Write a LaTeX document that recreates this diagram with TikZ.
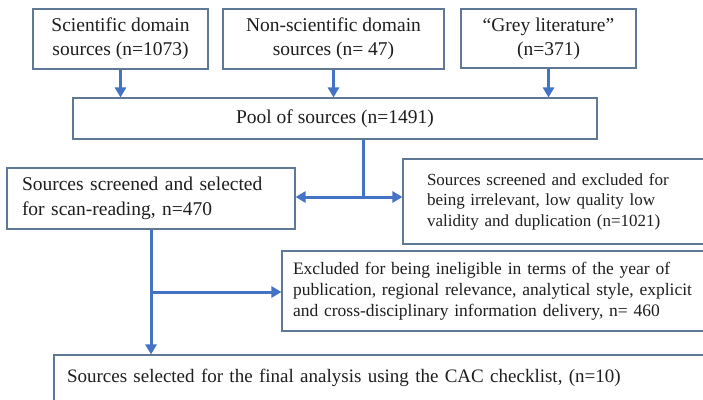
\documentclass[tikz,border=0pt]{standalone}
\usepackage{fontspec}
\setmainfont{Liberation Serif}
\usetikzlibrary{arrows.meta}
\definecolor{arrc}{RGB}{68,114,196}
\definecolor{boxc}{RGB}{95,120,150}
\definecolor{txtc}{RGB}{30,30,30}
\begin{document}
\begin{tikzpicture}[x=1pt,y=-1pt,
  box/.style={draw=boxc, line width=1.1pt, text=txtc, inner sep=0pt, fill=white},
  topbox/.style={box, align=center, font=\fontsize{19.5}{24}\selectfont},
  lbox/.style={box, align=left},
  arr/.style={draw=arrc, line width=3pt, -{Triangle[width=11pt,length=10pt]}},
  ln/.style={draw=arrc, line width=3pt}]
\clip (0,0) rectangle (703,399);
\fill[white] (0,0) rectangle (703,399);
% top sources
\node[topbox, minimum width=175pt, minimum height=60pt] (s1) at (120.5,39) {Scientific domain\\sources (n=1073)};
\node[topbox, minimum width=221pt, minimum height=60pt] (s2) at (333.5,39) {Non-scientific domain\\sources (n= 47)};
\node[topbox, minimum width=175pt, minimum height=59pt] (s3) at (548.5,38.5) {``Grey literature''\\(n=371)};
% pool
\node[topbox, minimum width=524pt, minimum height=41pt] (pool) at (335,118.5) {Pool of sources (n=1491)};
% screened and selected
\node[lbox, text width=258pt, inner xsep=15pt, minimum height=61pt,
  font=\fontsize{19.5}{25}\selectfont] (sel) at (151,198.5)
  {Sources screened and selected\\for scan-reading, n=470};
% excluded 1
\node[lbox, text width=259pt, inner xsep=24pt, minimum height=85pt,
  font=\fontsize{17}{20.5}\selectfont] (exc1) at (556.5,201.5)
  {Sources screened and excluded for\\being irrelevant, low quality low\\validity and duplication (n=1021)};
% excluded 2
\node[lbox, text width=406pt, inner xsep=11pt, minimum height=80pt,
  font=\fontsize{17.5}{21}\selectfont] (exc2) at (496,291)
  {Excluded for being ineligible in terms of the year of\\publication, regional relevance, analytical style, explicit\\and cross-disciplinary information delivery, n= 460};
% final
\node[lbox, text width=630pt, inner xsep=13pt, minimum height=46pt,
  font=\fontsize{19}{22}\selectfont] (fin) at (382,378)
  {Sources selected for the final analysis using the CAC checklist, (n=10)};
% connectors
\draw[arr] (s1.south) -- (s1.south |- pool.north);
\draw[arr] (s2.south) -- (s2.south |- pool.north);
\draw[arr] (s3.south) -- (s3.south |- pool.north);
\coordinate (j1) at (363,197);
\draw[ln] (pool.south -| j1) -- (j1);
\draw[arr] (j1) -- (j1 -| sel.east);
\draw[arr] (j1) -- (j1 -| exc1.west);
\draw[arr] (sel.south) -- (sel.south |- fin.north);
\coordinate (j2) at (151,292);
\draw[arr] (j2) -- (j2 -| exc2.west);
\end{tikzpicture}
\end{document}
